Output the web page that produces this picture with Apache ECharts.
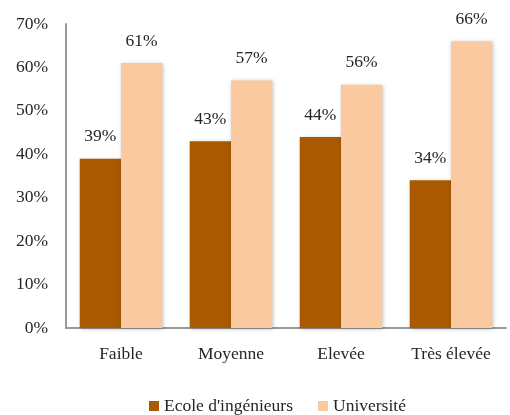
<!DOCTYPE html>
<html>
<head>
<meta charset="utf-8">
<script src="https://cdn.jsdelivr.net/npm/echarts@6/dist/echarts.min.js"></script>
<style>
html,body{margin:0;padding:0;background:#fff;}
#chart{width:510px;height:415px;}
</style>
</head>
<body>
<div id="chart"></div>
<script>
// Niveau de mathématiques par filière
const categories = ['Faible', 'Moyenne', 'Elevée', 'Très élevée'];
const ecoleIngenieurs = [39, 43, 44, 34];
const universite = [61, 57, 56, 66];
const yTicks = [0, 10, 20, 30, 40, 50, 60, 70];

const FONT = '"Liberation Serif", "DejaVu Serif", serif';
const FS = 17.5;
const TXT = '#262626';
const chart = echarts.init(document.getElementById('chart'));

const labelStyle = {
  show: true,
  position: 'top',
  distance: 13,
  formatter: p => p.value + '%',
  fontFamily: FONT,
  fontSize: FS,
  color: TXT
};
const shadow = {
  shadowColor: 'rgba(0,0,0,0.25)',
  shadowBlur: 4,
  shadowOffsetX: 1,
  shadowOffsetY: 1
};

chart.setOption({
  animation: false,
  textStyle: { fontFamily: FONT },
  grid: { left: 66, right: 4, top: 24, bottom: 87 },
  legend: {
    top: 392,
    left: 144,
    icon: 'rect',
    itemWidth: 10,
    itemHeight: 10,
    itemGap: 25,
    textStyle: { fontFamily: FONT, fontSize: FS, color: TXT },
    data: ["Ecole d'ingénieurs", 'Université']
  },
  xAxis: {
    type: 'category',
    data: categories,
    axisLine: { lineStyle: { color: '#999', width: 2 } },
    axisTick: { show: false },
    axisLabel: { fontFamily: FONT, fontSize: FS, color: TXT, margin: 17 }
  },
  yAxis: {
    type: 'value',
    min: yTicks[0],
    max: yTicks[yTicks.length - 1],
    interval: 10,
    axisLine: { show: true, lineStyle: { color: '#999', width: 2 } },
    axisTick: { show: false },
    splitLine: { show: false },
    axisLabel: {
      fontFamily: FONT, fontSize: FS, color: TXT, margin: 18,
      formatter: v => v + '%'
    }
  },
  series: [
    {
      name: "Ecole d'ingénieurs",
      type: 'bar',
      data: ecoleIngenieurs,
      barGap: '0%',
      barCategoryGap: '25%',
      itemStyle: Object.assign({ color: '#A95A00' }, shadow),
      label: labelStyle
    },
    {
      name: 'Université',
      type: 'bar',
      data: universite,
      barGap: '0%',
      barCategoryGap: '25%',
      itemStyle: Object.assign({ color: '#FAC9A0' }, shadow),
      label: labelStyle
    }
  ]
});
</script>
</body>
</html>
